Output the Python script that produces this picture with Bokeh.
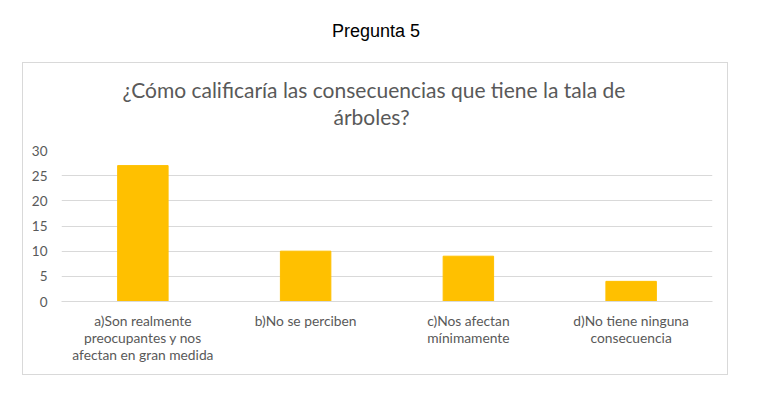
from bokeh.plotting import figure
from bokeh.models import FixedTicker, Title, Div
from bokeh.layouts import column
from bokeh.embed import file_html
from bokeh.resources import INLINE

categories = ["a)Son realmente\npreocupantes y nos\nafectan en gran medida",
              "b)No se perciben",
              "c)Nos afectan\nmínimamente",
              "d)No tiene ninguna\nconsecuencia"]
values = [27, 10, 9, 4]
y_ticks = [0, 5, 10, 15, 20, 25, 30]
title_lines = ["¿Cómo calificaría las consecuencias que tiene la tala de", "árboles?"]
header = "Pregunta 5"

PW, PH = 706, 313
p = figure(x_range=categories, y_range=(0, 30), width=PW, height=PH,
           output_backend="svg", toolbar_location=None,
           min_border_left=38, min_border_right=17,
           min_border_top=87, min_border_bottom=75,
           margin=(0, 0, 0, 22),
           styles={"border": "1px solid #d9d9d9"})
p.outline_line_color = None
p.background_fill_color = "white"
p.border_fill_color = "white"

p.vbar(x=categories, top=values, width=0.31, color="#FFC000")

p.xgrid.grid_line_color = None
p.ygrid.grid_line_color = "#d9d9d9"
p.ygrid.grid_line_width = 1
p.yaxis.ticker = FixedTicker(ticks=y_ticks)
p.yaxis.axis_line_color = None
p.yaxis.major_tick_line_color = None
p.yaxis.minor_tick_line_color = None
p.yaxis.major_label_text_font = "Lato"
p.yaxis.major_label_text_font_size = "13.5px"
p.yaxis.major_label_text_color = "#595959"
p.yaxis.major_label_standoff = 8

p.xaxis.axis_line_color = "#d9d9d9"
p.xaxis.major_tick_line_color = None
p.xaxis.minor_tick_line_color = None
p.xaxis.major_label_text_font = "Lato"
p.xaxis.major_label_text_font_size = "13.8px"
p.xaxis.major_label_text_color = "#595959"
p.xaxis.major_label_standoff = 4
p.xaxis.major_label_text_line_height = 1.0

# spacer nearest the plot, then title line 2, then title line 1
p.add_layout(Title(text=" ", text_font="Lato", text_font_size="21px",
                   standoff=-5), "above")
p.add_layout(Title(text=title_lines[1], align="left", offset=272,
                   text_font="Lato", text_font_size="21px",
                   text_font_style="normal", text_color="#595959",
                   standoff=0), "above")
p.add_layout(Title(text=title_lines[0], align="left", offset=61,
                   text_font="Lato", text_font_size="21px",
                   text_font_style="normal", text_color="#595959",
                   standoff=0), "above")

div = Div(text=header, width=742, height=52,
          styles={"font-family": "Liberation Sans, Arial, sans-serif",
                  "font-size": "18px", "color": "black",
                  "text-align": "center", "padding-top": "14px",
                  "box-sizing": "border-box"})

layout = column(div, p)
open("out.html", "w").write(file_html(layout, INLINE))
